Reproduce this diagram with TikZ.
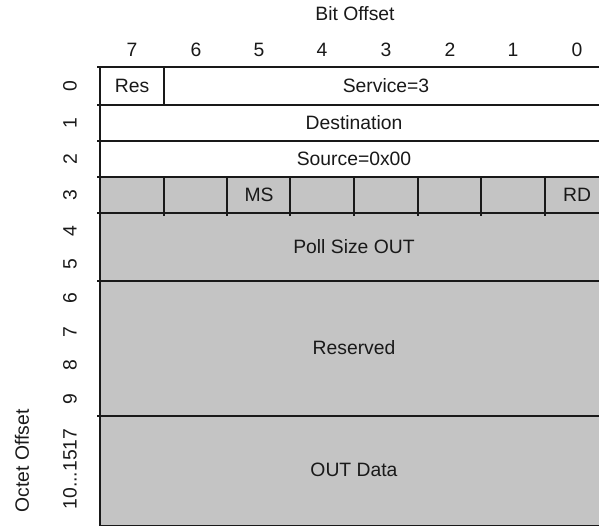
\documentclass[tikz,border=0pt]{standalone}
\usepackage{fontspec}
\setmainfont{Liberation Sans}
\definecolor{cellgrey}{RGB}{196,196,196}
\definecolor{inkgrey}{RGB}{25,25,25}
\tikzset{every picture/.style={line width=0.75pt}}
\tikzset{
	field/.style={draw=inkgrey, line width=1.4pt},
	greyfield/.style={field, fill=cellgrey},
	whitefield/.style={field, fill=white},
	tick/.style={draw=inkgrey, line width=1.4pt},
	txt/.style={text=inkgrey, font=\fontsize{14.5}{17}\selectfont, inner sep=0pt},
	rowlbl/.style={txt, rotate=90}}

\begin{document}
\begin{tikzpicture}[x=0.75pt,y=0.75pt,yscale=-1,xscale=1]
	\useasboundingbox (0,0) rectangle (599,525);
	\clip (0,0) rectangle (599,525);

	%Shape: Rectangle [octet 0]
	\draw [whitefield] (100,67) rectangle (164,105);
	\draw [whitefield] (164,67) rectangle (609,105);
	%Shape: Rectangle [octet 1]
	\draw [whitefield] (100,105) rectangle (609,141);
	%Shape: Rectangle [octet 2]
	\draw [whitefield] (100,141) rectangle (609,177);
	%Shape: Rectangle [octet 3]
	\draw [greyfield] (100,177) rectangle (164,213);
	\draw [greyfield] (164,177) rectangle (227,213);
	\draw [greyfield] (227,177) rectangle (290,213);
	\draw [greyfield] (290,177) rectangle (354,213);
	\draw [greyfield] (354,177) rectangle (418,213);
	\draw [greyfield] (418,177) rectangle (481,213);
	\draw [greyfield] (481,177) rectangle (545,213);
	\draw [greyfield] (545,177) rectangle (609,213);
	%Shape: Rectangle [octets 4-5]
	\draw [greyfield] (100,213) rectangle (609,281);
	%Shape: Rectangle [octets 6-9]
	\draw [greyfield] (100,281) rectangle (609,416);
	%Shape: Rectangle [octets 10-1517]
	\draw [greyfield] (100,416) rectangle (609,526.2);

	%Ticks
	\draw [tick] (97,67) -- (100,67);
	\draw [tick] (97,105) -- (100,105);
	\draw [tick] (97,141) -- (100,141);
	\draw [tick] (97,177) -- (100,177);
	\draw [tick] (97,213) -- (100,213);
	\draw [tick] (97,281) -- (100,281);
	\draw [tick] (97,416) -- (100,416);
	\draw [tick] (164,213) -- (164,216);
	\draw [tick] (227,213) -- (227,216);
	\draw [tick] (290,213) -- (290,216);
	\draw [tick] (354,213) -- (354,216);
	\draw [tick] (418,213) -- (418,216);
	\draw [tick] (481,213) -- (481,216);
	\draw [tick] (545,213) -- (545,216);

	% Text Node
	\node [txt] (bitoffset) at (355,14) {Bit Offset};
	% Text Node
	\node [txt] (bit7) at (132,50) {7};
	\node [txt] (bit6) at (196,50) {6};
	\node [txt] (bit5) at (259,50) {5};
	\node [txt] (bit4) at (322,50) {4};
	\node [txt] (bit3) at (386,50) {3};
	\node [txt] (bit2) at (450,50) {2};
	\node [txt] (bit1) at (513,50) {1};
	\node [txt] (bit0) at (577,50) {0};
	% Text Node
	\node [rowlbl] (oct0) at (70,86) {0};
	\node [rowlbl] (oct1) at (70,123) {1};
	\node [rowlbl] (oct2) at (70,159) {2};
	\node [rowlbl] (oct3) at (70,195) {3};
	\node [rowlbl] (oct4) at (70,231) {4};
	\node [rowlbl] (oct5) at (70,264) {5};
	\node [rowlbl] (oct6) at (70,298) {6};
	\node [rowlbl] (oct7) at (70,332) {7};
	\node [rowlbl] (oct8) at (70,365) {8};
	\node [rowlbl] (oct9) at (70,399) {9};
	\node [rowlbl] (oct10) at (70,469) {10...1517};
	% Text Node
	\node [rowlbl] (octetoffset) at (22,461) {Octet Offset};

	% Text Node
	\node [txt] (res) at (132,86) {Res};
	% Text Node
	\node [txt] (service) at (386,86) {Service=3};
	% Text Node
	\node [txt] (dest) at (354,123) {Destination};
	% Text Node
	\node [txt] (source) at (354,159) {Source=0x00};
	% Text Node
	\node [txt] (ms) at (259,195) {MS};
	% Text Node
	\node [txt] (rd) at (577,195) {RD};
	% Text Node
	\node [txt] (pollsize) at (354,247) {Poll Size OUT};
	% Text Node
	\node [txt] (reserved) at (354,348) {Reserved};
	% Text Node
	\node [txt] (outdata) at (354,470) {OUT Data};

\end{tikzpicture}
\end{document}
